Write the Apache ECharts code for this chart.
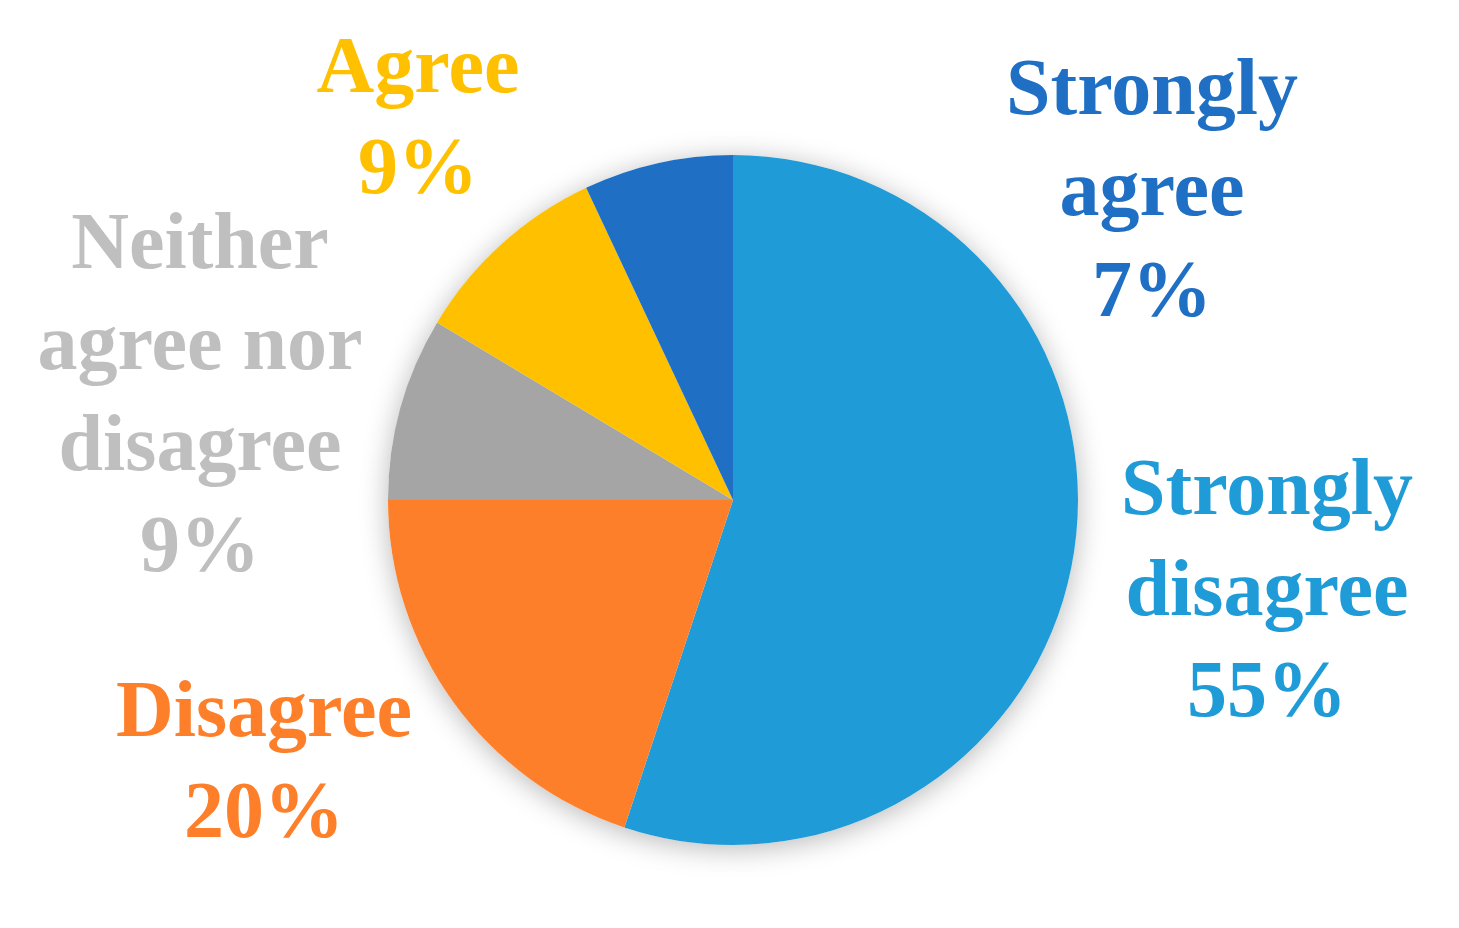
<!DOCTYPE html>
<html>
<head>
<meta charset="utf-8">
<script src="https://cdn.jsdelivr.net/npm/echarts@6/dist/echarts.min.js"></script>
<style>
  html, body { margin: 0; padding: 0; background: #fff; }
  #chart { width: 1459px; height: 928px; }
</style>
</head>
<body>
<div id="chart"></div>
<script>
// data, clockwise from 12 o'clock
const categories = ['Strongly disagree', 'Disagree', 'Neither agree nor disagree', 'Agree', 'Strongly agree'];
const labelLines = ['Strongly\ndisagree', 'Disagree', 'Neither\nagree nor\ndisagree', 'Agree', 'Strongly\nagree'];
const shares = [55.1, 19.9, 8.6, 9.4, 7.0];

const sliceColors = ['#1F9BD7', '#FE7F2A', '#A5A5A5', '#FFC000', '#1F70C4'];
const textColors = ['#1F9BD7', '#FE7F2A', '#BFBFBF', '#FFC000', '#1F70C4'];
// label centres
const labelPos = [[1267, 594], [264, 766], [200, 399], [418, 122], [1152, 194]];

const myChart = echarts.init(document.getElementById('chart'));

const option = {
  animation: false,
  series: [
    {
      // soft shadow behind the whole pie
      type: 'pie',
      silent: true,
      center: [733, 500],
      radius: 345,
      label: { show: false },
      itemStyle: {
        color: '#ffffff',
        shadowBlur: 28,
        shadowColor: 'rgba(0,0,0,0.28)',
        shadowOffsetY: 4
      },
      data: [{ value: 1, name: 'shadow' }],
      z: 1
    },
    {
      type: 'pie',
      center: [733, 500],
      radius: 345,
      startAngle: 90,
      clockwise: true,
      z: 2,
      itemStyle: { borderWidth: 0 },
      labelLine: { show: false },
      label: {
        show: true,
        position: 'outside',
        fontFamily: 'Liberation Serif',
        fontWeight: 'bold',
        fontSize: 80,
        lineHeight: 101,
        align: 'center',
        formatter: p => labelLines[p.dataIndex] + '\n' + Math.round(p.value) + '%'
      },
      labelLayout: p => ({
        x: labelPos[p.dataIndex][0],
        y: labelPos[p.dataIndex][1],
        align: 'center',
        verticalAlign: 'middle'
      }),
      data: categories.map((c, i) => ({
        name: c,
        value: shares[i],
        itemStyle: { color: sliceColors[i] },
        label: { color: textColors[i] }
      }))
    }
  ]
};

myChart.setOption(option, true);
</script>
</body>
</html>
